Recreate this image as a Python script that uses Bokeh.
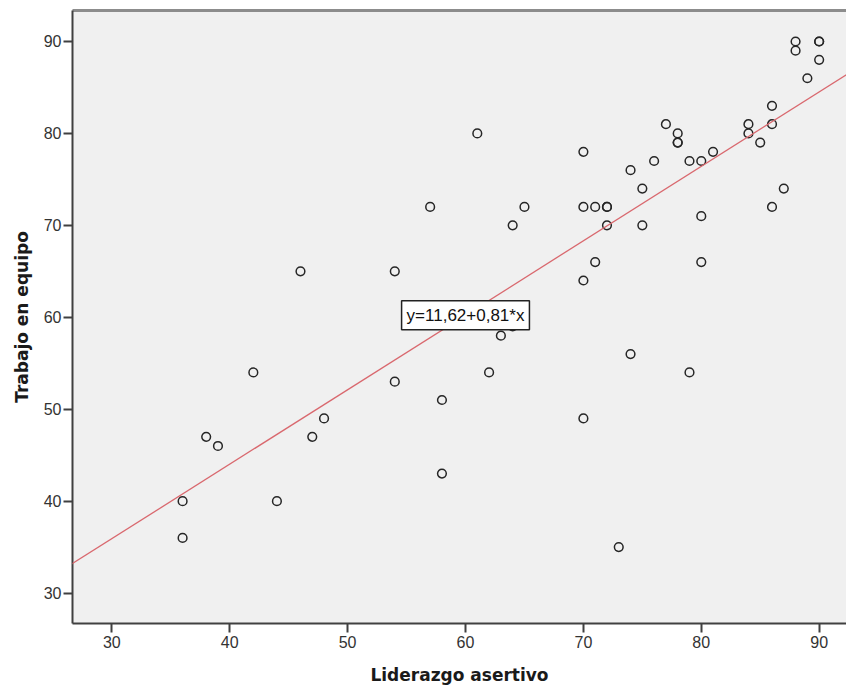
from bokeh.plotting import figure
from bokeh.models import Range1d, Slope, Label, FixedTicker, LinearAxis
from bokeh.embed import file_html
from bokeh.resources import INLINE

# ---- data ----
liderazgo = [36, 36, 38, 39, 42, 44, 46, 47, 48, 54, 54, 57, 58, 58, 61, 62, 63, 64, 64, 65,
             65, 70, 70, 70, 70, 71, 71, 72, 72, 72, 73, 74, 74, 75, 75, 76, 77, 78, 78, 78,
             79, 79, 80, 80, 80, 81, 84, 84, 85, 86, 86, 86, 87, 88, 88, 89, 90, 90, 90]
trabajo = [40, 36, 47, 46, 54, 40, 65, 47, 49, 65, 53, 72, 51, 43, 80, 54, 58, 59, 70, 72,
           60, 78, 72, 64, 49, 72, 66, 72, 72, 70, 35, 76, 56, 74, 70, 77, 81, 80, 79, 79,
           77, 54, 77, 71, 66, 78, 81, 80, 79, 83, 81, 72, 74, 90, 89, 86, 90, 90, 88]
intercept = 11.62
slope = 0.81
equation = "y=11,62+0,81*x"
x_ticks = [30, 40, 50, 60, 70, 80, 90]
y_ticks = [30, 40, 50, 60, 70, 80, 90]
x_title = "Liderazgo asertivo"
y_title = "Trabajo en equipo"

p = figure(width=846, height=689, output_backend="svg", toolbar_location=None,
           x_range=Range1d(26.66, 92.32), y_range=Range1d(26.69, 93.37),
           min_border_left=72, min_border_right=0, min_border_top=10, min_border_bottom=66)
p.background_fill_color = "#f0f0f0"
p.border_fill_color = "white"
p.outline_line_color = None
p.xgrid.visible = False
p.ygrid.visible = False

for ax, ticks, title in ((p.xaxis[0], x_ticks, x_title), (p.yaxis[0], y_ticks, y_title)):
    ax.ticker = FixedTicker(ticks=ticks)
    ax.axis_line_color = "#404040"
    ax.axis_line_width = 2
    ax.major_tick_line_color = "#404040"
    ax.major_tick_line_width = 2
    ax.major_tick_out = 9
    ax.major_tick_in = 0
    ax.minor_tick_line_color = None
    ax.major_label_text_font = "Liberation Sans"
    ax.major_label_text_font_size = "16px"
    ax.major_label_text_color = "#333333"
    ax.axis_label = title
    ax.axis_label_text_font = "DejaVu Sans"
    ax.axis_label_text_font_style = "bold"
    ax.axis_label_text_font_size = "17px"
    ax.axis_label_text_color = "#1a1a1a"

p.xaxis[0].major_label_standoff = 3
p.xaxis[0].axis_label_standoff = 14
p.yaxis[0].major_label_standoff = 2
p.yaxis[0].axis_label_standoff = 9

top = LinearAxis(ticker=FixedTicker(ticks=[]), axis_line_color="#8c8c8c", axis_line_width=3,
                 major_tick_line_color=None, minor_tick_line_color=None,
                 major_tick_out=0, major_label_standoff=0, major_label_text_font_size="0px")
p.add_layout(top, "above")

fit = Slope(gradient=slope, y_intercept=intercept, line_color="#d9686e", line_width=1.3)
p.add_layout(fit)

p.scatter(liderazgo, trabajo, marker="circle", size=8.7, fill_color=None,
          line_color="#262626", line_width=1.5)

lab = Label(x=60, y=intercept + slope * 60, text=equation, text_align="center",
            text_baseline="middle", text_font="Liberation Sans", text_font_size="17px",
            text_color="#111111", background_fill_color="white",
            border_line_color="#222222", border_line_width=1.5, padding=5)
p.add_layout(lab)

open("out.html", "w").write(file_html(p, INLINE))
